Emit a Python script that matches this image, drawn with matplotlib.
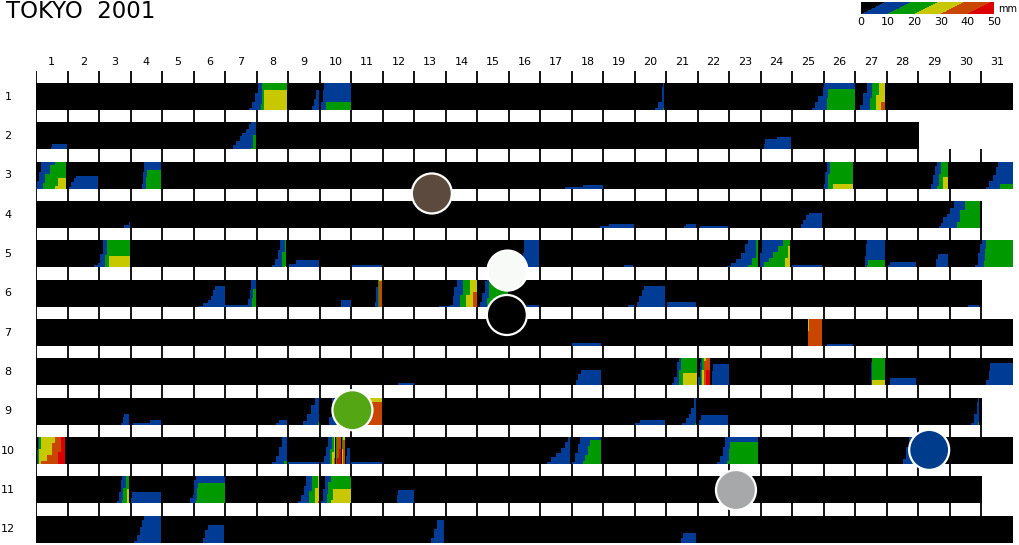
import numpy as np
import matplotlib
matplotlib.use('Agg')
import matplotlib.pyplot as plt
from matplotlib.colors import ListedColormap, BoundaryNorm

# meses y dias
month_labels = ['1', '2', '3', '4', '5', '6', '7', '8', '9', '10', '11', '12']
days_in_month = [31, 28, 31, 30, 31, 30, 31, 31, 30, 31, 30, 31]
day_labels = [str(d) for d in range(1, 32)]

# lluvia acumulada: (tiempos en dias desde el inicio del mes, mm acumulados, fin)
jan = [([6.78, 6.86, 6.93, 7.05, 7.12, 7.17, 7.22], [1, 3, 6, 9.5, 12, 19.5, 26.5], 7.97),
       ([8.78, 8.84, 8.9], [1.5, 4, 7], 8.98),
       ([9.04, 9.1, 9.15, 9.19], [3, 7, 9.5, 12.8], 9.97),
       ([19.65, 19.75, 19.85, 19.9], [1, 3, 8, 10.8], 19.94),
       ([24.62, 24.72, 24.82, 24.95, 25.0, 25.08, 25.12], [1, 3, 5, 8, 9.5, 14, 17], 25.97),
       ([26.14, 26.25, 26.35, 26.45, 26.55, 26.65, 26.75, 26.82], [2, 6, 10, 14, 20, 25, 30, 32.8], 26.93)]
feb = [([0.48, 0.52], [1, 2], 0.97),
       ([6.24, 6.35, 6.45, 6.55, 6.65, 6.75, 6.82, 6.88], [1.5, 3, 4.5, 5.5, 7, 8.5, 10.2, 14.5], 6.97),
       ([23.08, 23.12, 23.5], [2, 3.6, 4.4], 23.93)]
mar = [([0.0, 0.05, 0.1, 0.15, 0.2, 0.3, 0.45, 0.6, 0.7], [1, 3, 6, 9.5, 12, 15, 18, 21, 23.6], 0.96),
       ([1.06, 1.12, 1.2, 1.27], [1, 2.5, 3.8, 4.5], 1.96),
       ([3.36, 3.4, 3.44, 3.48, 3.52], [2, 6, 10, 14, 16.2], 3.98),
       ([16.8, 17.35], [0.8, 1.5], 17.97),
       ([25.0, 25.05, 25.1, 25.15, 25.2, 25.3], [2, 6, 10, 15, 19.5, 21.7], 25.93),
       ([28.39, 28.45, 28.52, 28.58, 28.64, 28.72, 28.8], [2, 5, 8, 11, 15, 20, 24], 28.93),
       ([30.15, 30.25, 30.35, 30.45, 30.52, 30.58], [1, 3, 5, 7.5, 9.5, 11.8], 31.0)]
apr = [([2.8, 2.93], [1.4, 2.1], 2.97),
       ([17.9, 18.17], [1, 1.7], 18.96),
       ([20.54, 20.6], [1, 1.7], 20.93),
       ([21.07], [0.9], 21.95),
       ([24.24, 24.32, 24.42, 24.52], [1.5, 3, 4.5, 5.2], 24.93),
       ([28.62, 28.7, 28.78, 28.9, 29.0, 29.1, 29.2, 29.3, 29.45], [1, 2, 4, 5, 7, 9.5, 12, 16, 19.5], 29.93)]
may = [([1.85, 1.95, 2.05, 2.12, 2.18, 2.25, 2.32], [0.8, 1.5, 4.5, 9.5, 14, 20, 23.5], 2.97),
       ([7.49, 7.58, 7.68, 7.76, 7.82, 7.9], [1, 3, 6, 9.5, 15, 20.3], 7.94),
       ([8.04, 8.25], [1.3, 2.6], 8.97),
       ([10.05], [0.9], 10.98),
       ([15.45, 15.5], [5, 9.6], 15.95),
       ([18.64], [0.9], 18.96),
       ([21.92, 22.05, 22.2, 22.35, 22.5, 22.6, 22.7, 22.85], [0.5, 1.5, 3, 5, 8, 10.5, 13, 20], 22.9),
       ([22.97, 23.02, 23.1, 23.25, 23.4, 23.55, 23.7, 23.78, 23.85], [5, 10, 11.5, 13, 15, 17, 19, 23, 26.9], 23.93),
       ([23.98], [0.9], 24.93),
       ([26.3, 26.33, 26.36, 26.4], [4, 8, 10.5, 12.4], 26.93),
       ([27.02, 27.1], [1, 1.8], 27.94),
       ([28.57, 28.62], [3, 4.6], 28.93),
       ([29.8, 29.88, 29.95, 30.02, 30.08, 30.12, 30.15], [1, 5, 8, 10, 12, 16, 19.5], 31.0)]
jun = [([5.13, 5.3, 5.45, 5.55, 5.62, 5.68], [0.5, 1.5, 2.5, 4, 6, 7.3], 5.98),
       ([5.98, 6.72, 6.77, 6.82, 6.86, 6.9], [0.9, 3, 6, 10, 13, 16], 6.97),
       ([9.68], [2.5], 9.97),
       ([10.74, 10.8, 10.85, 10.88], [2, 6.8, 20, 38.5], 10.98),
       ([12.78, 13.13, 13.2, 13.28, 13.35, 13.45, 13.55, 13.65, 13.75, 13.85], [0.5, 1, 4, 7, 10, 14, 19, 24, 29, 35], 13.97),
       ([14.08, 14.15, 14.22, 14.3, 14.38], [2, 5, 9, 13, 19], 14.98),
       ([15.47], [0.9], 15.95),
       ([18.78], [0.8], 18.96),
       ([19.07, 19.12, 19.2, 19.28], [2, 4, 6, 7.1], 19.93),
       ([19.99], [1.9], 20.93),
       ([29.55], [0.8], 29.91)]
jul = [([16.99], [1.1], 17.94),
       ([24.5, 24.52], [35, 39.5], 24.93),
       ([25.08], [1], 25.93)]
aug = [([11.48], [1], 11.98),
       ([17.13, 17.2, 17.3], [2, 4, 5.4], 17.94),
       ([20.17, 20.25, 20.33, 20.4, 20.47, 20.55], [1, 3, 8, 15, 20, 24], 20.96),
       ([21.02, 21.06, 21.1, 21.15, 21.2, 21.25], [3, 8, 15, 25, 38, 45], 21.38),
       ([21.44, 21.48], [5, 7.2], 21.97),
       ([26.5, 26.52, 26.55], [8, 18, 21.8], 26.93),
       ([27.09], [2.7], 27.94),
       ([30.15, 30.22, 30.28], [2, 5, 7.7], 31.0)]
sep = [([2.7, 2.75, 2.8], [1, 3, 3.8], 2.96),
       ([3.07, 3.6], [1, 1.9], 3.98),
       ([7.6, 7.7], [1, 1.8], 7.96),
       ([8.48, 8.6, 8.72, 8.85, 8.95], [1.5, 4, 7, 9.5, 11], 8.98),
       ([9.3, 9.4, 9.5, 9.7, 9.9], [3, 10, 20, 30, 37.7], 10.98),
       ([19.01, 19.15], [1, 1.9], 19.93),
       ([20.49, 20.6, 20.7, 20.78, 20.86, 20.9], [1, 2.5, 4, 6, 9.5, 10.5], 20.94),
       ([21.02, 21.08], [2, 3.6], 21.95),
       ([29.66, 29.75, 29.83, 29.88], [1, 4, 8, 11], 29.92)]
oct_ = [([0.02, 0.06, 0.1, 0.15, 0.35, 0.5, 0.6, 0.7, 0.8], [5, 15, 25, 31, 33, 37, 40, 44, 49], 0.92),
        ([7.51, 7.6, 7.7, 7.8, 7.88], [1, 3, 6, 9.5, 11], 7.96),
        ([8.0], [0.9], 8.97),
        ([9.05, 9.12, 9.2, 9.28, 9.34, 9.4, 9.45], [1, 3, 6, 9.5, 15, 24, 32], 9.5),
        ([9.52, 9.55], [20, 42], 9.6),
        ([9.63], [45], 9.68),
        ([9.7, 9.75], [25, 38], 9.8),
        ([9.84, 9.88], [3, 5.5], 9.95),
        ([10.0], [0.9], 10.97),
        ([16.21, 16.35, 16.5, 16.65, 16.8, 16.88], [1, 2.5, 4, 5.5, 7.5, 9.5], 16.95),
        ([17.03, 17.1, 17.18, 17.27, 17.35, 17.42, 17.5, 17.58], [1, 4, 7, 9.5, 11, 13, 16, 17.9], 17.94),
        ([21.6, 21.7, 21.8, 21.88, 21.93, 21.98, 22.02], [1, 3, 6, 9.5, 11, 15, 17.2], 22.92),
        ([27.51, 27.6, 27.7, 27.8], [2, 6, 9.5, 12], 27.98)]
nov = [([2.56, 2.62, 2.68, 2.72, 2.78, 2.85, 2.9], [1, 4, 8, 11, 15, 20, 24.5], 2.96),
       ([3.02, 3.05], [2, 4], 3.98),
       ([4.89, 4.98, 5.02, 5.06, 5.1, 5.15], [2, 3, 8, 11, 15, 16.7], 5.98),
       ([8.31, 8.4, 8.5, 8.57, 8.65, 8.75, 8.85, 8.93], [1, 3, 6, 9.5, 14, 20, 25, 30.5], 8.97),
       ([9.05, 9.1, 9.16, 9.22, 9.28, 9.35, 9.42], [1, 5, 9.5, 13, 17, 21, 24.5], 9.97),
       ([11.43, 11.48], [3, 4.5], 11.98)]
dec = [([3.12, 3.2, 3.3, 3.38, 3.44], [1, 3, 5.5, 8, 9.5], 3.98),
       ([5.31, 5.35, 5.45], [2, 4.5, 6.3], 5.98),
       ([12.54, 12.62, 12.7], [2, 5, 7.9], 12.96),
       ([20.47, 20.52], [2, 3.7], 20.93)]
rain = [jan, feb, mar, apr, may, jun, jul, aug, sep, oct_, nov, dec]

# circulos marcados encima del calendario
circle_day = [12.56, 14.96, 14.94, 10.04, 28.34, 22.21]
circle_month = [3.46, 5.42, 6.55, 8.97, 9.98, 11.0]
circle_color = ['#5c4a3e', '#f8faf8', '#000000', '#55a614', '#003c8c', '#a6a8aa']

# escala de colores (mm)
levels = [-100, 0.25, 10, 20, 30, 40, 1000]
colors = ['#000000', '#003c96', '#009900', '#c8c800', '#c84600', '#dc0000']
cb_ticks = [0, 10, 20, 30, 40, 50]

cmap = ListedColormap(colors)
norm = BoundaryNorm(levels, cmap.N)
RES = 48      # columnas por dia
NY = 27       # filas por barra
SHIFT = 9.0   # desplazamiento vertical (mm) dentro de cada barra
HALF = 0.339  # media altura de barra (en unidades de fila)


def month_image(segments, ndays):
    x = (np.arange(ndays * RES) + 0.5) / RES
    cum = np.zeros_like(x)
    for times, mm, end in segments:
        idx = np.searchsorted(times, x, side='right') - 1
        dentro = (idx >= 0) & (x < end)
        cum[dentro] = np.asarray(mm, dtype=float)[idx[dentro]]
    yfrac = 1 - (np.arange(NY) + 0.5) / NY
    return cum[None, :] - SHIFT * yfrac[:, None]


fig = plt.figure(figsize=(10.19, 5.45), dpi=100)
ax = fig.add_axes([36 / 1019, 0, 977 / 1019, 1])

for i, (segs, nd) in enumerate(zip(rain, days_in_month)):
    m = i + 1
    img = month_image(segs, nd)
    ax.imshow(img, cmap=cmap, norm=norm, aspect='auto', interpolation='nearest',
              extent=(0, nd, m + HALF, m - HALF), origin='upper')
    ax.vlines(np.arange(nd), m - 1 + HALF, m - HALF, color='black', lw=1.3)
    ax.text(-0.89, m, month_labels[i], ha='center', va='center', fontsize=8)

for d, lab in enumerate(day_labels):
    ax.text(d + 0.5, 0.118, lab, ha='center', va='center', fontsize=8)

ax.scatter(circle_day, circle_month, s=830, c=circle_color, edgecolors='white',
           linewidths=1.6, zorder=5, clip_on=False)

ax.set_xlim(0, 31)
ax.set_ylim(12.398, -1.459)
ax.axis('off')

fig.text(0.006, 1 - 12 / 545, 'TOKYO  2001', fontsize=16.5, va='center', ha='left')

# barra de colores
cax = fig.add_axes([861 / 1019, 1 - 14 / 545, 133 / 1019, 12 / 545])
xs = (np.arange(200) + 0.5) / 200 * 50
yf = 1 - (np.arange(12) + 0.5) / 12
cax.imshow(xs[None, :] - SHIFT * yf[:, None], cmap=cmap, norm=norm, aspect='auto',
           interpolation='nearest', extent=(0, 50, 0, 1), origin='upper')
cax.axis('off')
for t in cb_ticks:
    fig.text((861 + t / 50 * 133) / 1019, 1 - 22 / 545, str(t), ha='center', va='center', fontsize=8)
fig.text(998 / 1019, 1 - 9 / 545, 'mm', ha='left', va='center', fontsize=7)

fig.savefig('out.png', dpi=100)
